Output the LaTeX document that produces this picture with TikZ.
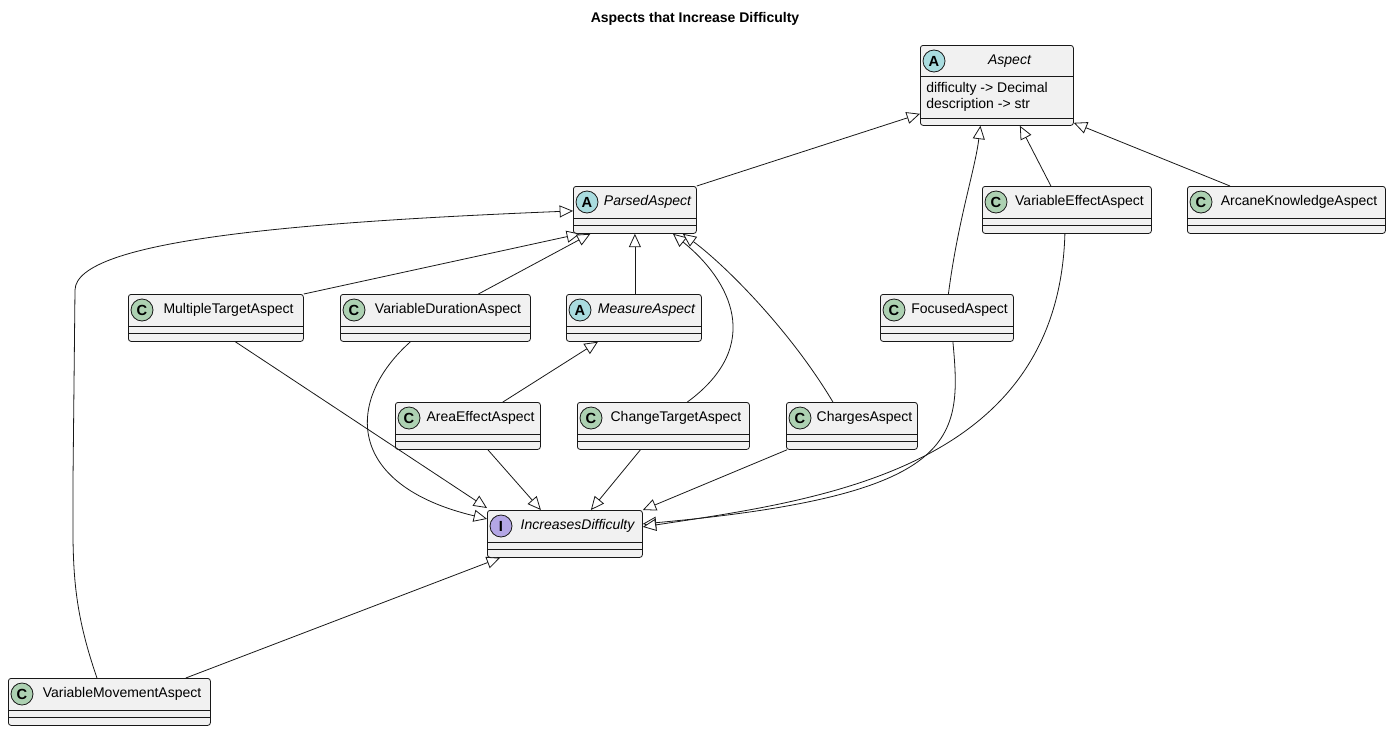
\documentclass[tikz,border=0pt]{standalone}
\usepackage{fontspec}
\setmainfont{Liberation Sans}
\usetikzlibrary{arrows.meta,calc}
\definecolor{boxfill}{HTML}{F1F1F1}
\definecolor{boxline}{HTML}{181818}
\definecolor{cC}{HTML}{ADD1B2}
\definecolor{cA}{HTML}{A9DCDF}
\definecolor{cI}{HTML}{B4A7E5}
\newcommand\ucls[8]{%
  \path node[box, anchor=north west, minimum width={(#4-#2)*0.75pt}, minimum height={(#5-#3)*0.75pt}] (#1) at (#2,#3) {};
  \node[icon, fill=#7] at ({#2+14},{#3+16}) {\textbf{#6}};
  \node[lbl] at ({(#2+26+#4)/2},{#3+16}) {#8};
}
\newcommand\ucomp[3]{% name-independent dividers: x1 x2 y
  \draw[boxline, line width=0.6pt] (#1,#3) -- (#2,#3);
}
\begin{document}
\begin{tikzpicture}[x=0.75pt,y=-0.75pt,
  box/.style={draw=boxline, fill=boxfill, rounded corners=2pt, line width=0.6pt, inner sep=0pt},
  icon/.style={circle, draw=boxline, line width=0.6pt, minimum size=16.5pt, inner sep=0pt, font=\fontsize{11}{11}\selectfont},
  lbl/.style={font=\fontsize{10.5}{12}\selectfont, inner sep=0pt},
  inh/.style={draw=boxline, line width=0.6pt, -{Triangle[open, length=10pt, width=9pt, fill=white]}}]
\useasboundingbox (0,0) rectangle (1391,732);
\node[font=\bfseries\fontsize{10.5}{12}\selectfont] (title) at (695,19) {Aspects that Increase Difficulty};

% Aspect
\ucls{Asp}{920}{45}{1073}{125}{A}{cA}{\itshape Aspect}
\ucomp{920}{1073}{76}\ucomp{920}{1073}{118}
\node[lbl, anchor=west] (a1) at (926,89) {difficulty -> Decimal};
\node[lbl, anchor=west] (a2) at (926,105) {description -> str};

\ucls{PA}{573}{186}{696}{233}{A}{cA}{\itshape ParsedAspect}
\ucomp{573}{696}{218}\ucomp{573}{696}{225}
\ucls{VE}{982}{186}{1151}{233}{C}{cC}{VariableEffectAspect}
\ucomp{982}{1151}{218}\ucomp{982}{1151}{225}
\ucls{AK}{1187}{186}{1385}{233}{C}{cC}{ArcaneKnowledgeAspect}
\ucomp{1187}{1385}{218}\ucomp{1187}{1385}{225}
\ucls{MT}{128}{294}{303}{341}{C}{cC}{MultipleTargetAspect}
\ucomp{128}{303}{326}\ucomp{128}{303}{333}
\ucls{VD}{340}{294}{530}{341}{C}{cC}{VariableDurationAspect}
\ucomp{340}{530}{326}\ucomp{340}{530}{333}
\ucls{MA}{566}{294}{701}{341}{A}{cA}{\itshape MeasureAspect}
\ucomp{566}{701}{326}\ucomp{566}{701}{333}
\ucls{Foc}{880}{294}{1013}{341}{C}{cC}{FocusedAspect}
\ucomp{880}{1013}{326}\ucomp{880}{1013}{333}
\ucls{AE}{395}{402}{540}{449}{C}{cC}{AreaEffectAspect}
\ucomp{395}{540}{434}\ucomp{395}{540}{441}
\ucls{CT}{577}{402}{749}{449}{C}{cC}{ChangeTargetAspect}
\ucomp{577}{749}{434}\ucomp{577}{749}{441}
\ucls{CH}{786}{402}{917}{449}{C}{cC}{ChargesAspect}
\ucomp{786}{917}{434}\ucomp{786}{917}{441}
\ucls{ID}{487}{510}{642}{557}{I}{cI}{\itshape IncreasesDifficulty}
\ucomp{487}{642}{542}\ucomp{487}{642}{549}
\ucls{VM}{8}{678}{210}{725}{C}{cC}{VariableMovementAspect}
\ucomp{8}{210}{710}\ucomp{8}{210}{717}

% inheritance edges
\draw[inh] (PA.north east) -- ($(Asp.south west)+(0,-12)$);
\draw[inh] ($(Foc.north)+(1.5,0)$) .. controls (958,220) and (975,170) .. ($(Asp.south)+(-16.5,0)$);
\draw[inh] ($(VE.north)+(-16,0)$) -- ($(Asp.south)+(23,0)$);
\draw[inh] ($(AK.north west)+(43,0)$) -- ($(Asp.south east)+(0,-3)$);
\draw[inh] ($(VM.north west)+(89,0)$) .. controls (70,600) and (73,560) .. (73,480) -- (75,290) .. controls (76,240) and (300,222) .. ($(PA.west)+(0,1)$);
\draw[inh] (MT.north east) -- ($(PA.south west)+(7,0)$);
\draw[inh] ($(VD.north)+(43,0)$) -- ($(PA.south)+(-44.5,0)$);
\draw[inh] (MA.north -| PA.south) -- (PA.south);
\draw[inh] ($(CT.north)+(24,0)$) .. controls (765,345) and (730,280) .. ($(PA.south)+(38,0)$);
\draw[inh] ($(CH.north)+(-19,0)$) .. controls (790,330) and (725,265) .. ($(PA.south east)+(-14,0)$);
\draw[inh] ($(AE.north)+(35,0)$) -- ($(MA.south)+(-36,0)$);
\draw[inh] ($(MT.south)+(19.5,0)$) -- ($(ID.north west)+(0,-2)$);
\draw[inh] ($(VD.south)+(-25,0)$) .. controls (345,400) and (345,485) .. ($(ID.west)+(0,-15)$);
\draw[inh] ($(AE.south)+(20,0)$) -- ($(ID.north)+(-24,0)$);
\draw[inh] ($(CT.south)+(-23,0)$) -- ($(ID.north)+(26,0)$);
\draw[inh] ($(CH.south west)+(1,0)$) -- (ID.north east);
\draw[inh] ($(Foc.south)+(6,0)$) .. controls (962,440) and (960,495) .. ($(ID.east)+(0,-10)$);
\draw[inh] ($(VE.south)+(-2,0)$) .. controls (1058,470) and (820,500) .. ($(ID.east)+(0,-7)$);
\draw[inh] ($(VM.north east)+(-25,0)$) -- ($(ID.south west)+(13,0)$);
\end{tikzpicture}
\end{document}
